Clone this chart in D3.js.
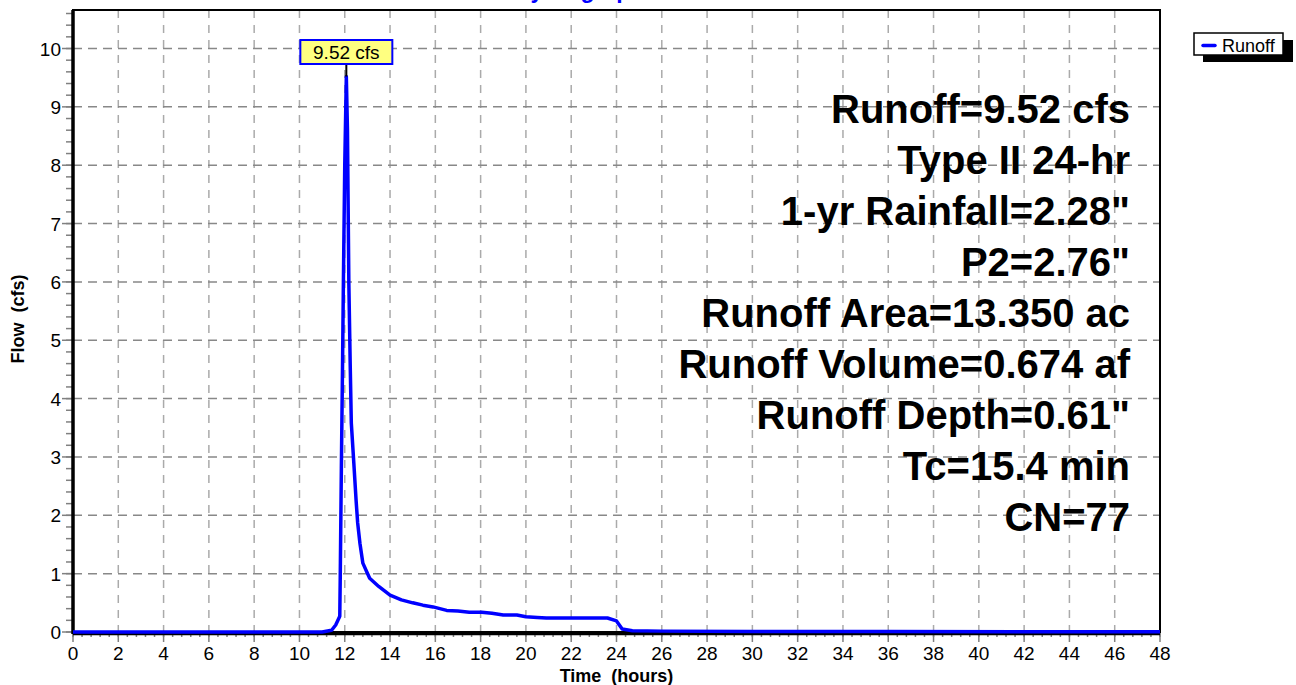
<!DOCTYPE html>
<html>
<head>
<meta charset="utf-8">
<script src="https://cdn.jsdelivr.net/npm/d3@7"></script>
<style>
  body { margin: 0; background: #fff; }
  svg { display: block; font-family: "Liberation Sans", Arial, sans-serif; }
</style>
</head>
<body>
<svg id="chart" width="1296" height="685" viewBox="0 0 1296 685"></svg>
<script>
// hydrograph values (hours, cfs)
const hours = [0, 11.0, 11.42, 11.6, 11.78, 11.8, 11.85, 11.9, 11.94, 12.0, 12.07, 12.12, 12.18, 12.24, 12.29,
    12.4, 12.5, 12.57, 12.67, 12.8, 12.95, 13.1, 13.5, 14.0, 14.5, 15.0, 15.45, 15.9, 16.5, 17.0, 17.5,
    18.05, 18.5, 19.0, 19.6, 20.0, 20.5, 20.9, 21.5, 22.0, 22.5, 23.0, 23.6, 24.0, 24.25, 24.7, 26, 30, 36, 42, 48]
const flow = [0, 0.0, 0.03, 0.12, 0.27, 0.9, 2.8, 4.5, 6.0, 8.0, 9.52, 8.6, 6.0, 4.6, 3.58,
    2.9, 2.26, 1.87, 1.52, 1.18, 1.05, 0.92, 0.78, 0.63, 0.55, 0.5, 0.46, 0.43, 0.37, 0.36, 0.34,
    0.34, 0.32, 0.29, 0.29, 0.26, 0.25, 0.24, 0.24, 0.24, 0.24, 0.24, 0.24, 0.19, 0.05, 0.02, 0.015, 0.01, 0.008, 0.006, 0.005]

const xTickValues = [0,2,4,6,8,10,12,14,16,18,20,22,24,26,28,30,32,34,36,38,40,42,44,46,48]
const yTickValues = [0,1,2,3,4,5,6,7,8,9,10]
const infoLines = ["Runoff=9.52 cfs", "Type II 24-hr", "1-yr Rainfall=2.28\"", "P2=2.76\"",
    "Runoff Area=13.350 ac", "Runoff Volume=0.674 af", "Runoff Depth=0.61\"", "Tc=15.4 min", "CN=77"]
const peakLabel = "9.52 cfs"
const seriesName = "Runoff"

const svg = d3.select("#chart")
const plotL = 73, plotR = 1160, plotT = 10, plotB = 632

let x = d3.scaleLinear().domain([0, 48]).range([plotL, plotR])
let y = d3.scaleLinear().domain([0, 10.66]).range([plotB, plotT])

// title, mostly off the top of the picture (as in the original)
svg.append("text")
    .attr("x", 514).attr("y", -2)
    .attr("font-size", 23).attr("font-weight", "bold")
    .attr("fill", "#0000ff")
    .text("Hydrograph")

let grid = svg.append("g")
grid.selectAll(".vg")
    .data(xTickValues.filter(d => d > 0 && d < 48))
    .enter().append("line")
    .attr("x1", d => x(d)).attr("x2", d => x(d))
    .attr("y1", plotT).attr("y2", plotB)
    .attr("stroke", "#aaa").attr("stroke-width", 1.5)
    .attr("stroke-dasharray", "8,7")
grid.selectAll(".hg")
    .data(yTickValues.filter(d => d > 0))
    .enter().append("line")
    .attr("x1", plotL).attr("x2", plotR)
    .attr("y1", d => y(d)).attr("y2", d => y(d))
    .attr("stroke", "#888").attr("stroke-width", 1.5)
    .attr("stroke-dasharray", "9,6")

// minor + major ticks
let ticks = svg.append("g").attr("stroke", "#808080").attr("stroke-width", 1.5)
ticks.selectAll(".xm")
    .data(d3.range(0, 48.01, 0.4))
    .enter().append("line")
    .attr("x1", d => x(d)).attr("x2", d => x(d))
    .attr("y1", plotB).attr("y2", plotB + 5)
ticks.selectAll(".xM")
    .data(xTickValues)
    .enter().append("line")
    .attr("x1", d => x(d)).attr("x2", d => x(d))
    .attr("y1", plotB).attr("y2", plotB + 10)
ticks.selectAll(".ym")
    .data(d3.range(0, 10.61, 0.2))
    .enter().append("line")
    .attr("x1", plotL - 7).attr("x2", plotL)
    .attr("y1", d => y(d)).attr("y2", d => y(d))
ticks.selectAll(".yM")
    .data(yTickValues)
    .enter().append("line")
    .attr("x1", plotL - 11).attr("x2", plotL)
    .attr("y1", d => y(d)).attr("y2", d => y(d))

svg.append("g").selectAll("text")
    .data(xTickValues)
    .enter().append("text")
    .attr("x", d => x(d)).attr("y", 660)
    .attr("text-anchor", "middle").attr("font-size", 19)
    .text(d => d)
svg.append("g").selectAll("text")
    .data(yTickValues)
    .enter().append("text")
    .attr("x", 61).attr("y", d => y(d) + 7)
    .attr("text-anchor", "end").attr("font-size", 19)
    .text(d => d)

// frame
svg.append("rect")
    .attr("x", plotL).attr("y", plotT)
    .attr("width", plotR - plotL).attr("height", plotB - plotT)
    .attr("fill", "none").attr("stroke", "#000").attr("stroke-width", 2)
svg.append("line").attr("x1", plotL).attr("x2", plotL).attr("y1", plotT).attr("y2", plotB + 2)
    .attr("stroke", "#000").attr("stroke-width", 3.5)
svg.append("line").attr("x1", plotL).attr("x2", plotR).attr("y1", plotB + 1.5).attr("y2", plotB + 1.5)
    .attr("stroke", "#000").attr("stroke-width", 3.5)

// axis titles
svg.append("text")
    .attr("transform", "translate(24,319) rotate(-90)")
    .attr("text-anchor", "middle").attr("font-size", 18).attr("font-weight", "bold")
    .attr("xml:space", "preserve")
    .text("Flow  (cfs)")
svg.append("text")
    .attr("x", x(24)).attr("y", 682)
    .attr("text-anchor", "middle").attr("font-size", 18).attr("font-weight", "bold")
    .attr("xml:space", "preserve")
    .text("Time  (hours)")

// hydrograph
let line = d3.line()
    .x((d, i) => x(hours[i]))
    .y(d => y(d))
svg.append("path")
    .datum(flow)
    .attr("d", line)
    .attr("fill", "none")
    .attr("stroke", "#0000ff")
    .attr("stroke-width", 3.5)
    .attr("stroke-linejoin", "round")

// peak callout
let peakIdx = d3.maxIndex(flow)
let px = x(hours[peakIdx])
svg.append("line")
    .attr("x1", px).attr("x2", px)
    .attr("y1", 64).attr("y2", y(flow[peakIdx]))
    .attr("stroke", "#000").attr("stroke-width", 2)
svg.append("rect")
    .attr("x", px - 46).attr("y", 40)
    .attr("width", 92).attr("height", 24)
    .attr("fill", "#ffff80").attr("stroke", "#0000ff").attr("stroke-width", 2)
svg.append("text")
    .attr("x", px).attr("y", 59)
    .attr("text-anchor", "middle").attr("font-size", 19)
    .text(peakLabel)

// info block
svg.append("g").selectAll("text")
    .data(infoLines)
    .enter().append("text")
    .attr("x", 1130).attr("y", (d, i) => 123 + i * 51)
    .attr("text-anchor", "end")
    .attr("font-size", 40).attr("font-weight", "bold")
    .text(d => d)

// legend with drop shadow
let legend = svg.append("g")
legend.append("rect")
    .attr("x", 1203).attr("y", 40).attr("width", 90).attr("height", 22)
    .attr("fill", "#000")
legend.append("rect")
    .attr("x", 1194).attr("y", 33).attr("width", 89).attr("height", 22)
    .attr("fill", "#fff").attr("stroke", "#000").attr("stroke-width", 1.5)
legend.append("line")
    .attr("x1", 1203).attr("x2", 1215).attr("y1", 45.5).attr("y2", 45.5)
    .attr("stroke", "#0000ff").attr("stroke-width", 3.5).attr("stroke-linecap", "round")
legend.append("text")
    .attr("x", 1222).attr("y", 52)
    .attr("font-size", 18)
    .text(seriesName)
</script>
</body>
</html>
